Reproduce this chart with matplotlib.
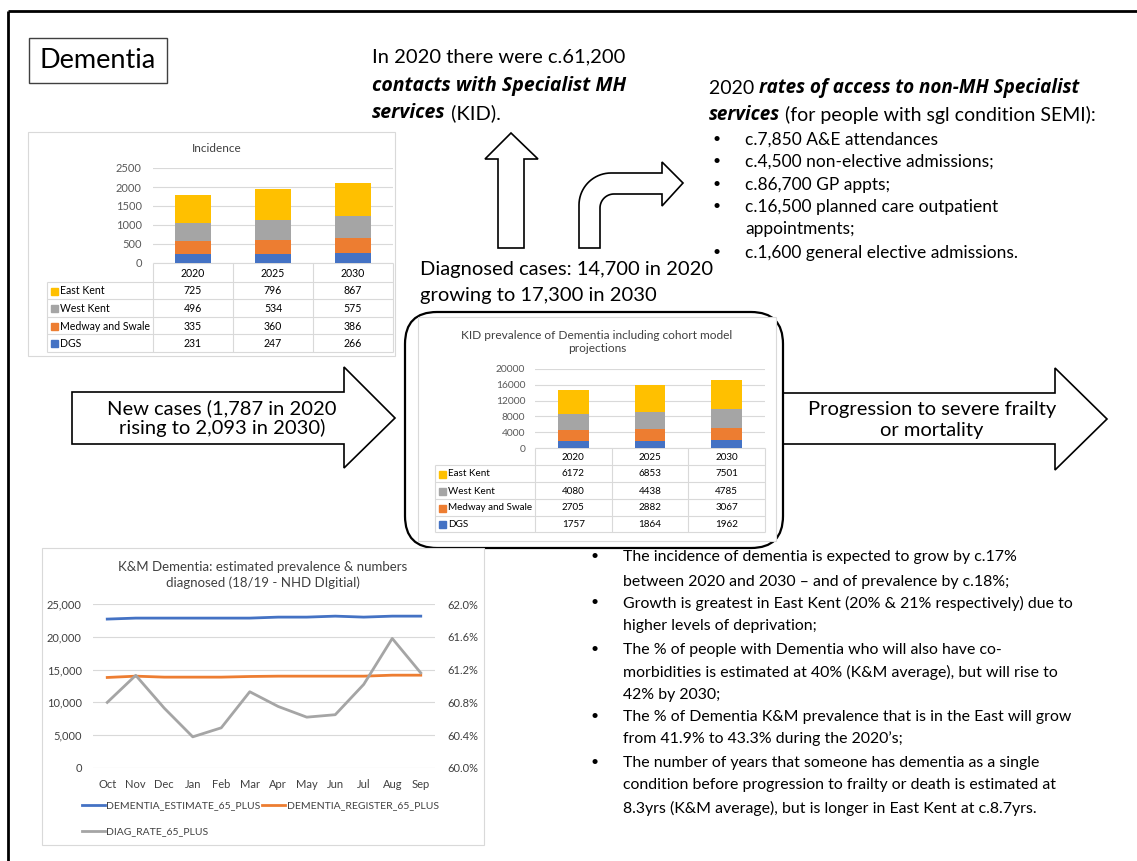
import numpy as np
import matplotlib
matplotlib.use('Agg')
from matplotlib import pyplot as plt
from matplotlib.patches import Polygon, FancyBboxPatch, Rectangle
from matplotlib.ticker import FuncFormatter

plt.rcParams['font.family'] = ['Lato', 'DejaVu Sans']

W, H = 1137, 861

# incidence (new cases) by area
years = ['2020', '2025', '2030']
areas = ['DGS', 'Medway and Swale', 'West Kent', 'East Kent']
inc_dgs = [231, 247, 266]
inc_medway = [335, 360, 386]
inc_west = [496, 534, 575]
inc_east = [725, 796, 867]

# KID prevalence by area
prev_dgs = [1757, 1864, 1962]
prev_medway = [2705, 2882, 3067]
prev_west = [4080, 4438, 4785]
prev_east = [6172, 6853, 7501]

# monthly K&M dementia 65+ (18/19)
months = ['Oct', 'Nov', 'Dec', 'Jan', 'Feb', 'Mar', 'Apr', 'May', 'Jun', 'Jul', 'Aug', 'Sep']
estimate_65 = [22700, 22850, 22850, 22850, 22850, 22850, 23000, 23000, 23150, 23000, 23150, 23150]
register_65 = [13800, 14000, 13850, 13850, 13850, 13950, 14000, 14000, 14000, 14000, 14150, 14150]
diag_rate_65 = [60.80, 61.13, 60.73, 60.38, 60.49, 60.93, 60.75, 60.62, 60.65, 61.02, 61.58, 61.16]

area_colours = ['#4472C4', '#ED7D31', '#A5A5A5', '#FFC000']
GRID = '#D9D9D9'
TICK = '#595959'
BOX = '#D9D9D9'

fig = plt.figure(figsize=(W / 100, H / 100), dpi=100)
fig.patch.set_facecolor('white')

# pixel-space canvas for the slide furniture
bg = fig.add_axes([0, 0, 1, 1])
bg.set_xlim(0, W)
bg.set_ylim(H, 0)
bg.axis('off')


def px_axes(x0, y0, x1, y1):
    ax = fig.add_axes([x0 / W, 1 - y1 / H, (x1 - x0) / W, (y1 - y0) / H])
    ax.patch.set_alpha(0)
    return ax


def seg(x, y, **kw):
    bg.plot(x, y, solid_capstyle='butt', **kw)


# slide border
seg([8, 8], [H, 11], color='black', lw=2)
seg([8, W], [11, 11], color='black', lw=2)

# title box
bg.add_patch(Rectangle((29, 38), 138, 45, fc='white', ec='#404040', lw=1))
bg.text(98, 61, 'Dementia', fontsize=19.5, ha='center', va='center')

# arrows
arrow_kw = dict(fc='white', ec='black', lw=1.2, zorder=1)
bg.add_patch(Polygon([(498, 248), (498, 159), (485, 159), (511, 133), (538, 159),
                      (524, 159), (524, 248)], closed=True, **arrow_kw))

# bent arrow: up then right
ro, ri = 32, 14
t = np.linspace(np.pi, 1.5 * np.pi, 20)
outer = [(579 + ro + ro * np.cos(a), 173 + ro + ro * np.sin(a)) for a in t]
inner = [(600 + ri + ri * np.cos(a), 194 + ri + ri * np.sin(a)) for a in t[::-1]]
bent = [(579, 248)] + outer + [(662, 173), (662, 162), (683, 183), (662, 206), (662, 194)] \
    + inner + [(600, 248)]
bg.add_patch(Polygon(bent, closed=True, **arrow_kw))

bg.add_patch(Polygon([(72, 392), (344, 392), (344, 367), (395, 418), (344, 468),
                      (344, 444), (72, 444)], closed=True, **arrow_kw))
bg.text(222, 418, 'New cases (1,787 in 2020\nrising to 2,093 in 2030)', fontsize=14.5,
        ha='center', va='center', linespacing=1.15)

bg.add_patch(Polygon([(770, 393), (1055, 393), (1055, 368), (1107, 419), (1055, 470),
                      (1055, 444), (770, 444)], closed=True, **arrow_kw))
bg.text(932, 420, 'Progression to severe frailty\nor mortality', fontsize=14.5,
        ha='center', va='center', linespacing=1.25)

# rounded frame around the prevalence chart
bg.add_patch(FancyBboxPatch((405, 312), 378, 236, boxstyle='round,pad=0,rounding_size=32',
                            fc='white', ec='black', lw=1.6, zorder=2))

# chart panels
bg.add_patch(Rectangle((28, 132), 367, 224, fc='white', ec=BOX, lw=0.8, zorder=2))
bg.add_patch(Rectangle((418, 317), 358, 224, fc='white', ec=BOX, lw=0.8, zorder=3))
bg.add_patch(Rectangle((42, 548), 442, 297, fc='white', ec=BOX, lw=0.8, zorder=2))


def stacked_panel(series, plot_box, table_left, rows, ymax, ystep, bar_w, fs, tfs, pad):
    x0, y0, x1, y1 = plot_box
    ax = px_axes(*plot_box)
    xs = np.arange(len(years))
    base = np.zeros(len(years))
    for vals, colour in zip(series, area_colours):
        ax.bar(xs, vals, bar_w, bottom=base, color=colour, zorder=3)
        base = base + np.array(vals)
    ax.set_xlim(-0.5, len(years) - 0.5)
    ax.set_ylim(0, ymax)
    ax.set_yticks(np.arange(0, ymax + 1, ystep))
    ax.set_xticks([])
    ax.grid(axis='y', color=GRID, lw=0.8, zorder=0)
    for s in ax.spines.values():
        s.set_visible(False)
    ax.tick_params(axis='y', length=0, labelsize=fs, labelcolor=TICK, pad=pad)

    # data table under the bars
    cols = np.linspace(x0, x1, len(years) + 1)
    lk = dict(color=GRID, lw=0.8, zorder=5)
    seg([x0, x1], [y1, y1], **lk)
    for c in cols:
        seg([c, c], [y1, rows[-1]], **lk)
    seg([table_left, table_left], [rows[0], rows[-1]], **lk)
    for r in rows:
        seg([table_left, x1], [r, r], **lk)
    for i, yr in enumerate(years):
        bg.text((cols[i] + cols[i + 1]) / 2, (y1 + rows[0]) / 2 + 1, yr, fontsize=tfs,
                ha='center', va='center', zorder=6)
    table_rows = list(zip(areas, series, area_colours))[::-1]
    for k, (name, vals, colour) in enumerate(table_rows):
        yc = (rows[k] + rows[k + 1]) / 2 + 0.5
        bg.add_patch(Rectangle((table_left + 4, yc - 3.5), 7, 7, color=colour, zorder=6))
        bg.text(table_left + 13, yc, name, fontsize=tfs, ha='left', va='center', zorder=6)
        for i, v in enumerate(vals):
            bg.text((cols[i] + cols[i + 1]) / 2, yc, str(v), fontsize=tfs,
                    ha='center', va='center', zorder=6)
    return ax


stacked_panel([inc_dgs, inc_medway, inc_west, inc_east], (153, 168, 393, 263), 47,
              [282, 299, 317, 334, 352], 2500, 500, 0.46, 8, 7.6, 8)
bg.text(217, 149, 'Incidence', fontsize=8.5, ha='center', va='center', color='#404040', zorder=6)

stacked_panel([prev_dgs, prev_medway, prev_west, prev_east], (535, 369, 765, 448), 435,
              [465, 482, 499, 516, 532], 20000, 4000, 0.40, 7.4, 7.1, 7)
bg.text(597, 342, 'KID prevalence of Dementia including cohort model\nprojections', fontsize=8.6,
        ha='center', va='center', color='#404040', linespacing=1.25, zorder=6)

# monthly prevalence vs register, diagnosis rate on the right axis
ax3 = px_axes(93, 604, 435, 768)
xm = np.arange(len(months))
l1, = ax3.plot(xm, estimate_65, color='#4472C4', lw=2, zorder=3)
l2, = ax3.plot(xm, register_65, color='#ED7D31', lw=2, zorder=3)
ax3.set_xlim(-0.5, len(months) - 0.5)
ax3.set_ylim(0, 25000)
ax3.set_yticks(np.arange(0, 25001, 5000))
ax3.yaxis.set_major_formatter(FuncFormatter(lambda v, p: f'{v:,.0f}'))
ax3.set_xticks(xm)
ax3.set_xticklabels(months)
ax3.grid(axis='y', color=GRID, lw=0.8, zorder=0)
ax3.tick_params(length=0, labelsize=8, labelcolor='#404040')
ax3.tick_params(axis='y', pad=8)
ax3.tick_params(axis='x', pad=8)
ax4 = ax3.twinx()
ax4.patch.set_alpha(0)
l3, = ax4.plot(xm, diag_rate_65, color='#A5A5A5', lw=2)
ax4.set_ylim(60, 62)
ax4.set_yticks(np.arange(60, 62.01, 0.4))
ax4.yaxis.set_major_formatter(FuncFormatter(lambda v, p: f'{v:.1f}%'))
ax4.tick_params(length=0, labelsize=8, labelcolor='#404040', pad=9)
for a in (ax3, ax4):
    for s in a.spines.values():
        s.set_visible(False)
bg.text(263, 575, 'K&M Dementia: estimated prevalence & numbers\ndiagnosed (18/19 - NHD DIgitial)',
        fontsize=9.5, ha='center', va='center', color='#404040', linespacing=1.3, zorder=6)
fig.legend([l1, l3, l2], ['DEMENTIA_ESTIMATE_65_PLUS', 'DIAG_RATE_65_PLUS', 'DEMENTIA_REGISTER_65_PLUS'],
           ncol=2, loc='upper left', bbox_to_anchor=(82 / W, 1 - 801 / H), frameon=False,
           fontsize=7.5, handlelength=2.2, handletextpad=0.15, columnspacing=0.15,
           labelspacing=1.6, borderpad=0, borderaxespad=0, labelcolor='#404040')


# mixed normal / bold-italic text runs
def run(x, y, parts, fs):
    prev = None
    for text, bold in parts:
        kw = dict(fontsize=fs, va='center', ha='left')
        if bold:
            kw.update(fontweight='bold', fontstyle='italic', family=['Open Sans', 'DejaVu Sans'],
                      fontsize=fs * 0.97)
        if prev is None:
            prev = bg.text(x, y, text, **kw)
        else:
            prev = bg.annotate(text, xy=(1, 0.5), xycoords=prev, **kw)


run(372, 57, [('In 2020 there were c.61,200', False)], 14.5)
run(372, 86, [('contacts with Specialist MH', True)], 14.5)
run(372, 113, [('services', True), (' (KID).', False)], 14.5)

run(709, 88, [('2020 ', False), ('rates of access to non-MH Specialist', True)], 14)
run(709, 115, [('services', True), (' (for people with sgl condition SEMI):', False)], 14)
access_lines = [('c.7,850 A&E attendances', 140, True),
                ('c.4,500 non-elective admissions;', 162, True),
                ('c.86,700 GP appts;', 185, True),
                ('c.16,500 planned care outpatient', 207, True),
                ('appointments;', 229, False),
                ('c.1,600 general elective admissions.', 253, True)]
for text, y, bullet in access_lines:
    if bullet:
        bg.text(712, y - 1, '•', fontsize=10, ha='left', va='center')
    bg.text(745, y, text, fontsize=12.5, ha='left', va='center')

bg.text(420, 270, 'Diagnosed cases: 14,700 in 2020', fontsize=14.5, ha='left', va='center')
bg.text(420, 295, 'growing to 17,300 in 2030', fontsize=14.5, ha='left', va='center')

key_points = [
    ('The incidence of dementia is expected to grow by c.17%', 557, True),
    ('between 2020 and 2030 – and of prevalence by c.18%;', 582, False),
    ('Growth is greatest in East Kent (20% & 21% respectively) due to', 603, True),
    ('higher levels of deprivation;', 626, False),
    ('The % of people with Dementia who will also have co-', 650, True),
    ('morbidities is estimated at 40% (K&M average), but will rise to', 672, False),
    ('42% by 2030;', 695, False),
    ('The % of Dementia K&M prevalence that is in the East will grow', 717, True),
    ('from 41.9% to 43.3% during the 2020’s;', 739, False),
    ('The number of years that someone has dementia as a single', 763, True),
    ('condition before progression to frailty or death is estimated at', 785, False),
    ('8.3yrs (K&M average), but is longer in East Kent at c.8.7yrs.', 808, False),
]
for text, y, bullet in key_points:
    if bullet:
        bg.text(591, y - 1, '•', fontsize=10, ha='left', va='center')
    bg.text(623, y, text, fontsize=11.4, ha='left', va='center')

plt.savefig('out.png', dpi=100, facecolor='white')
